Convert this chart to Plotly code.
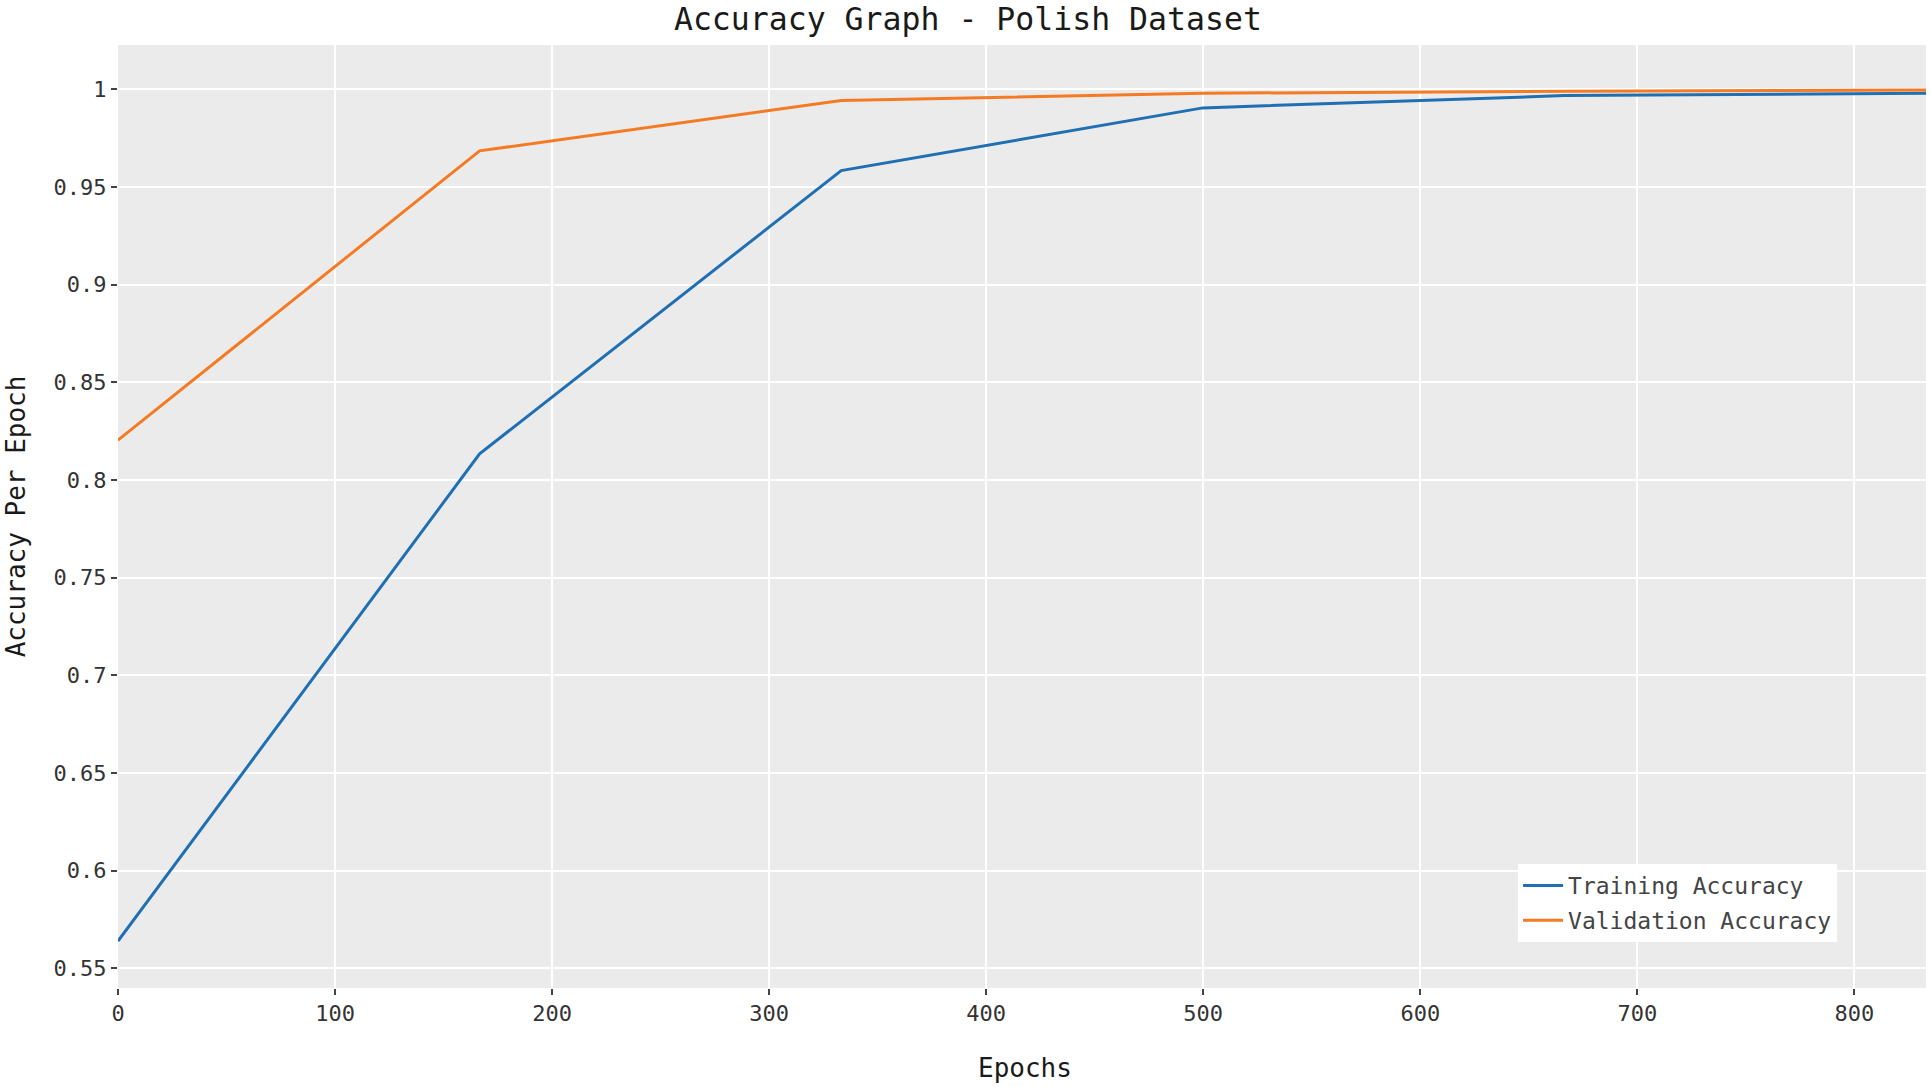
import plotly.graph_objects as go

epochs = [0, 166.6, 333.2, 499.8, 666.4, 833]
train_acc = [0.5639, 0.8134, 0.9584, 0.9905, 0.9968, 0.9980]
val_acc = [0.8204, 0.9685, 0.9943, 0.9980, 0.9990, 0.9997]

FONT = "DejaVu Sans Mono"

fig = go.Figure()
fig.add_trace(go.Scatter(x=epochs, y=train_acc, mode="lines", name="Training Accuracy",
                         legendgroup="train", line=dict(color="#1f6fb2", width=3)))
fig.add_trace(go.Scatter(x=epochs, y=val_acc, mode="lines", name="Validation Accuracy",
                         legendgroup="val", line=dict(color="#f57a24", width=3)))

fig.update_layout(
    width=1930, height=1087,
    paper_bgcolor="white", plot_bgcolor="#ebebeb",
    font=dict(family=FONT, size=22, color="#333333"),
    title=dict(text="Accuracy Graph - Polish Dataset", x=0.5015, xanchor="center",
               y=0.9825, yanchor="middle", automargin=False,
               font=dict(size=31.5, color="#1a1a1a")),
    margin=dict(l=118, r=4, t=45, b=99, autoexpand=False),
    legend=dict(x=0.9508, y=0.0488, xanchor="right", yanchor="bottom",
                bgcolor="white", font=dict(size=23, color="#444444"),
                traceorder="grouped", tracegroupgap=2, itemwidth=40),
)

# axis titles placed as annotations for exact positioning
fig.add_annotation(text="Epochs", xref="paper", yref="paper", x=0.5017, y=-0.0849,
                   xanchor="center", yanchor="middle", showarrow=False,
                   font=dict(size=26, color="#1a1a1a"))
fig.add_annotation(text="Accuracy Per Epoch", xref="paper", yref="paper",
                   x=-0.0565, y=0.5, xanchor="center", yanchor="middle",
                   textangle=-90, showarrow=False,
                   font=dict(size=26, color="#1a1a1a"))

fig.update_xaxes(
    range=[0, 833], dtick=100, tick0=0, automargin=False,
    showgrid=True, gridcolor="white", gridwidth=1.5, zeroline=False,
    ticks="outside", ticklen=6, tickcolor="#444444", tickwidth=1.5,
)
fig.update_yaxes(
    range=[0.5399, 1.0227], dtick=0.05, tick0=0, automargin=False,
    showgrid=True, gridcolor="white", gridwidth=1.5, zeroline=False,
    ticks="outside", ticklen=6, tickcolor="#444444", tickwidth=1.5,
)

# drop the browser's default 8px body margin so the figure fills the window
fig.write_html("out.html", config={"displayModeBar": False},
               post_script="document.body.style.margin='0';")
